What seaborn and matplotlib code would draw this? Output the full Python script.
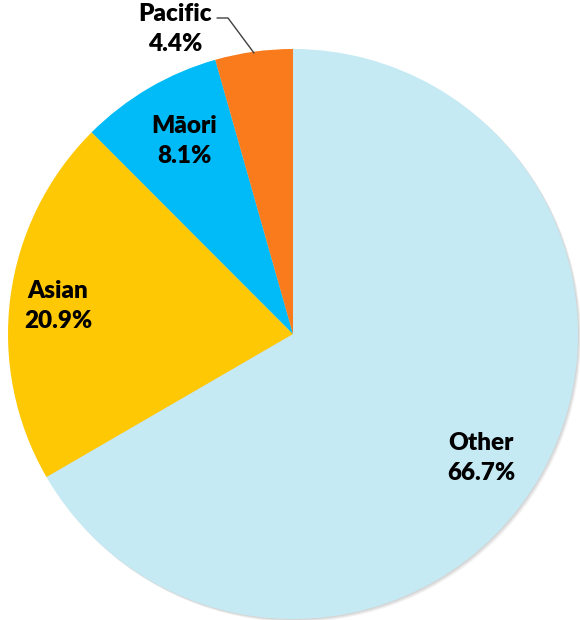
import matplotlib
matplotlib.use("Agg")
import matplotlib.pyplot as plt
from matplotlib.patches import Circle
import seaborn as sns

# Ethnic group shares (%)
groups = ["Other", "Asian", "Māori", "Pacific"]
shares = [66.7, 20.9, 8.1, 4.4]
colors = ["#C5EAF4", "#FFC805", "#00BBF7", "#F97B1C"]

sns.set_theme(style="white")
plt.rcParams["font.family"] = ["Lato", "DejaVu Sans"]

W, H = 580, 620
fig = plt.figure(figsize=(W / 100, H / 100), dpi=100)
ax = fig.add_axes([0, 0, 1, 1])

cx, cy, r = 293, 334, 285

# soft drop shadow behind the pie
for off, a in [(3, 0.10), (2, 0.12), (1, 0.15)]:
    ax.add_patch(Circle((cx + off, cy + off), r, color="#808080", alpha=a, lw=0, zorder=0))

# y axis is inverted, so a counterclock=True pie with startangle=-90 runs clockwise from the top
ax.pie(shares, colors=colors, startangle=-90, counterclock=True,
       center=(cx, cy), radius=r, frame=True,
       wedgeprops=dict(linewidth=0, zorder=1))
ax.set_xlim(0, W)
ax.set_ylim(H, 0)
ax.set_aspect("equal")
ax.axis("off")

label_pos = {
    "Other": (481, 458),
    "Asian": (58, 306),
    "Māori": (184, 141),
    "Pacific": (175, 29),
}
for g, s in zip(groups, shares):
    x, y = label_pos[g]
    ax.text(x, y, f"{g}\n{s}%", ha="center", va="center", fontsize=17.5,
            fontweight="heavy", color="black", linespacing=1.48, zorder=3)

# leader line for the small Pacific slice
ax.plot([254, 228, 217], [53, 18, 18], color="#404040", lw=1, zorder=3)

fig.savefig("out.png", dpi=100)
